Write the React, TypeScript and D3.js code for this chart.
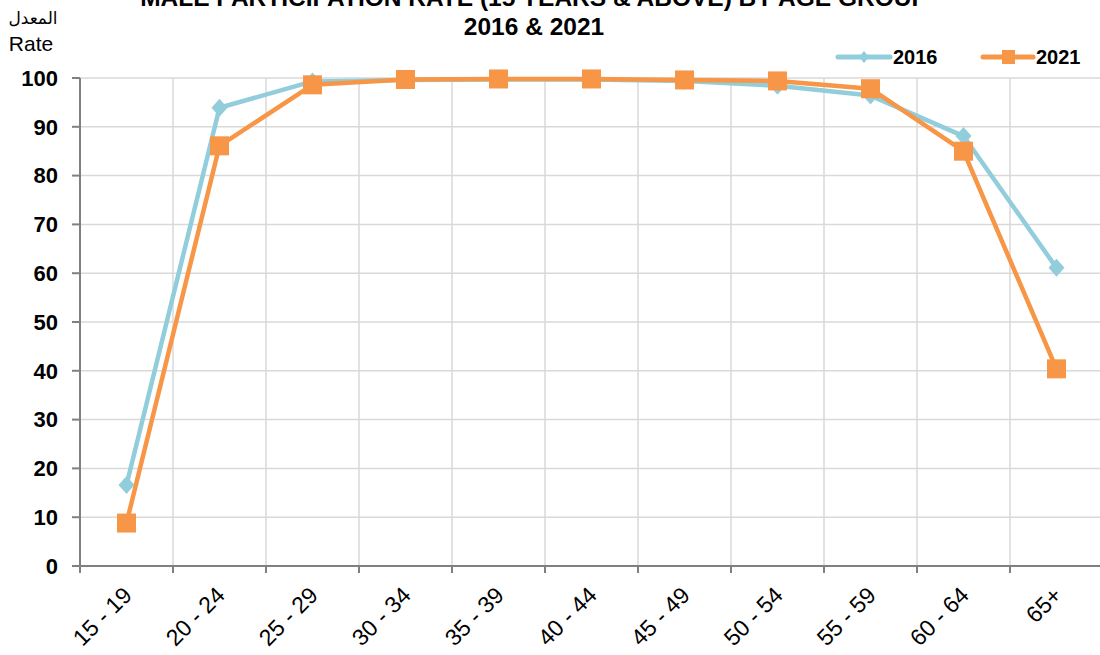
import React from "react";
import * as d3 from "d3";

const categories = ["15 - 19", "20 - 24", "25 - 29", "30 - 34", "35 - 39", "40 - 44", "45 - 49", "50 - 54", "55 - 59", "60 - 64", "65+"];
const values2016 = [16.6, 93.9, 99.3, 99.6, 99.7, 99.7, 99.4, 98.4, 96.4, 88.1, 61.1];
const values2021 = [8.8, 86.1, 98.6, 99.7, 99.8, 99.8, 99.6, 99.4, 97.8, 85.0, 40.4];
const yTicks = [0, 10, 20, 30, 40, 50, 60, 70, 80, 90, 100];
const seriesNames = ["2016", "2021"];
const colors = ["#92CDDC", "#F79646"];

const rhombus = (hw: number, hh: number) => `M0,${-hh}L${hw},0L0,${hh}L${-hw},0Z`;

export default function App() {
  const W = 1100, H = 655;
  const left = 80, right = 1103, top = 78, bottom = 566;
  const x = d3.scaleBand().domain(categories).range([left, right]);
  const y = d3.scaleLinear().domain([0, 100]).range([bottom, top]);
  const cx = (c: string) => (x(c) as number) + x.bandwidth() / 2;
  const line = d3.line<number>().x((_, i) => cx(categories[i])).y((d) => y(d));
  const font = "'Liberation Sans', Arial, sans-serif";
  const boundaries = d3.range(categories.length + 1).map((i) => left + i * x.bandwidth());

  return (
    <svg width={W} height={H} style={{ position: "absolute", left: 0, top: 0, background: "#fff" }} fontFamily={font}>
      {/* gridlines */}
      {yTicks.filter((t) => t > 0).map((t) => (
        <line key={"gy" + t} x1={left} x2={right} y1={y(t)} y2={y(t)} stroke="#d9d9d9" strokeWidth={1.5} />
      ))}
      {boundaries.slice(1).map((bx, i) => (
        <line key={"gx" + i} x1={bx} x2={bx} y1={top} y2={bottom} stroke="#d9d9d9" strokeWidth={1.5} />
      ))}
      {/* axes */}
      <line x1={left} x2={left} y1={top} y2={bottom} stroke="#808080" strokeWidth={2} />
      <line x1={left} x2={right} y1={bottom} y2={bottom} stroke="#808080" strokeWidth={2} />
      {yTicks.map((t) => (
        <g key={"yt" + t}>
          <line x1={left - 8} x2={left} y1={y(t)} y2={y(t)} stroke="#808080" strokeWidth={2} />
          <text x={58} y={y(t)} dy="0.35em" textAnchor="end" fontSize={22} fontWeight="bold" fill="#000">{t}</text>
        </g>
      ))}
      {boundaries.slice(0, categories.length).map((bx, i) => (
        <line key={"xt" + i} x1={bx} x2={bx} y1={bottom} y2={bottom + 7} stroke="#808080" strokeWidth={2} />
      ))}
      {categories.map((c) => (
        <text key={"xl" + c} transform={`translate(${cx(c) + 1},${bottom + 25}) rotate(-45)`} textAnchor="end" dy="0.35em" fontSize={23} fill="#000">{c}</text>
      ))}
      {/* series */}
      <path d={line(values2016) || ""} fill="none" stroke={colors[0]} strokeWidth={4.5} strokeLinejoin="round" />
      <path d={line(values2021) || ""} fill="none" stroke={colors[1]} strokeWidth={4.5} strokeLinejoin="round" />
      {values2016.map((v, i) => (
        <path key={"d" + i} d={rhombus(8, 9)} transform={`translate(${cx(categories[i])},${y(v)})`} fill={colors[0]} />
      ))}
      {values2021.map((v, i) => (
        <rect key={"s" + i} x={cx(categories[i]) - 9.5} y={y(v) - 9.5} width={19} height={19} fill={colors[1]} />
      ))}
      {/* titles */}
      <text x={534} y={6} textAnchor="middle" fontSize={24.5} fontWeight="bold" fill="#000">MALE PARTICIPATION RATE (15 YEARS &amp; ABOVE) BY AGE GROUP</text>
      <text x={534} y={35} textAnchor="middle" fontSize={24.5} fontWeight="bold" fill="#000">2016 &amp; 2021</text>
      <text x={33} y={24} textAnchor="middle" fontSize={17} fill="#000" fontFamily="'DejaVu Sans', sans-serif">المعدل</text>
      <text x={31} y={51} textAnchor="middle" fontSize={21} fill="#000">Rate</text>
      {/* legend */}
      <line x1={838} x2={890} y1={57} y2={57} stroke={colors[0]} strokeWidth={5} strokeLinecap="round" />
      <path d={rhombus(5, 6)} transform="translate(864,57)" fill={colors[0]} />
      <text x={893} y={57} dy="0.35em" fontSize={20} fontWeight="bold" fill="#000">{seriesNames[0]}</text>
      <line x1={983} x2={1033} y1={57} y2={57} stroke={colors[1]} strokeWidth={5} strokeLinecap="round" />
      <rect x={1002} y={50} width={13} height={14} fill={colors[1]} />
      <text x={1036} y={57} dy="0.35em" fontSize={20} fontWeight="bold" fill="#000">{seriesNames[1]}</text>
    </svg>
  );
}
